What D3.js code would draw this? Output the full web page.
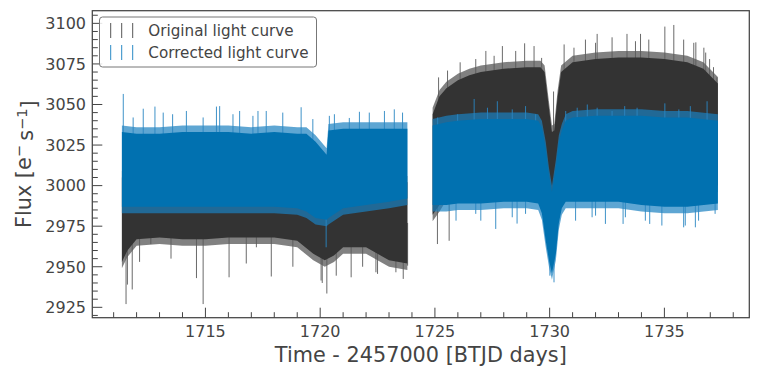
<!DOCTYPE html>
<html><head><meta charset="utf-8">
<script src="https://cdn.jsdelivr.net/npm/d3@7"></script>
<style>body{margin:0;background:#fff} text{font-family:"DejaVu Sans",sans-serif}</style>
</head><body><svg id="c" width="759" height="376"></svg>
<script>
// ---------- DATA ----------
const xTicks = [1715, 1720, 1725, 1730, 1735];
const yTicks = [2925, 2950, 2975, 3000, 3025, 3050, 3075, 3100];
const seriesNames = ["Original light curve", "Corrected light curve"];

// Original light curve: dense band edges per segment
const origT1  = [1711.36, 1711.6, 1712, 1713, 1714, 1715, 1716, 1717, 1718, 1719, 1719.7, 1720.2, 1720.6, 1721, 1722, 1722.5, 1723, 1723.8];
const origLo1 = [2953, 2960, 2967, 2968, 2967, 2967, 2968, 2968, 2968, 2966, 2958, 2954, 2957, 2962, 2962, 2958, 2954, 2952];
const origHi1 = [3005, 3008, 3010, 3010, 3010, 3010, 3010, 3010, 3010, 3010, 3008, 3005, 3006, 3008, 3008, 3006, 3004, 3002];
const origT2  = [1724.9, 1725.2, 1725.5, 1726, 1726.5, 1727, 1728, 1729, 1729.6, 1729.78, 1729.95, 1730.1, 1730.2, 1730.35, 1730.5, 1731, 1732, 1733, 1734, 1735, 1736, 1736.7, 1737.33];
const origHi2 = [3044, 3055, 3060, 3065, 3068, 3070, 3072, 3073, 3073, 3070, 3050, 3033, 3034, 3055, 3070, 3076, 3078, 3079, 3079, 3078, 3076, 3072, 3063];
const origLo2 = [2982, 2988, 2995, 3000, 3000, 3000, 3000, 3000, 3000, 2998, 2992, 2990, 2990, 2995, 3000, 3002, 3002, 3002, 3002, 3002, 3002, 3000, 3000];
// Original light curve: prominent individual excursions
const origSpikeT = [1711.54, 1711.60, 1711.81, 1712.13, 1712.62, 1713.50, 1714.61, 1714.90, 1716.03, 1716.78, 1717.22, 1717.87, 1718.81, 1720.04, 1720.09, 1720.29, 1720.70, 1721.35, 1721.85, 1722.43, 1722.50, 1723.30, 1723.62, 1723.81,
  1725.11, 1725.62,
  1725.16, 1725.55, 1726.10, 1726.78, 1727.22, 1727.58, 1727.94, 1728.52, 1728.91, 1729.32, 1729.65, 1730.17, 1730.63, 1731.06, 1731.56, 1732.0, 1732.07, 1732.72, 1733.37, 1733.74, 1733.96, 1734.32, 1735.02, 1735.41, 1735.84, 1736.28, 1736.37, 1736.72, 1736.8, 1736.97, 1737.14, 1737.29];
const origSpikeV = [2927, 2939, 2936, 2953, 2964, 2955, 2943, 2927, 2943.5, 2952, 2962, 2944, 2950, 2941.5, 2940, 2933.5, 2944.5, 2943.5, 2950, 2946.6, 2945.6, 2946.6, 2942.5, 2950.7,
  2964, 2966,
  3066.7, 3070.9, 3076, 3078, 3083, 3080, 3086, 3083, 3087.7, 3086, 3078.7, 3058, 3087, 3085, 3090, 3088, 3093.5, 3091.4, 3093.5, 3089, 3093.5, 3090, 3098, 3099, 3090, 3088, 3088.3, 3085, 3082, 3078, 3073, 3066.7];

// Corrected light curve: dense band edges per segment
const corrT1  = [1711.36, 1712, 1713, 1714, 1715, 1716, 1717, 1718, 1719, 1719.4, 1719.8, 1720.28, 1720.36, 1721, 1722, 1723, 1723.8];
const corrHi1 = [3033, 3032, 3032, 3033, 3033, 3033, 3032, 3033, 3032, 3032, 3027, 3019, 3034, 3035, 3035, 3035, 3035];
const corrLo1 = [2987, 2987, 2987, 2987, 2987, 2987, 2987, 2987, 2986, 2984, 2980, 2979, 2980, 2986, 2988, 2990, 2992];
const corrT2  = [1724.9, 1725.5, 1726, 1727, 1728, 1729, 1729.5, 1729.66, 1729.83, 1729.97, 1730.1, 1730.27, 1730.4, 1730.53, 1730.7, 1731, 1732, 1733, 1734, 1735, 1736, 1737.33];
const corrHi2 = [3037, 3039, 3040, 3041, 3041, 3041, 3040, 3036, 3023, 3007, 2996, 3012, 3027, 3034, 3040, 3042, 3043, 3043, 3043, 3042, 3042, 3040];
const corrLo2 = [2988, 2988, 2989, 2989, 2990, 2990, 2989, 2983, 2966, 2954, 2946, 2958, 2977, 2986, 2990, 2990, 2990, 2990, 2988, 2987, 2987, 2989];
// Corrected light curve: prominent individual excursions
const corrSpikeT = [1711.42, 1711.85, 1712.29, 1712.80, 1713.16, 1713.57, 1714.17, 1714.90, 1715.48, 1715.62, 1716.20, 1716.49, 1717.07, 1717.29, 1717.65, 1718.37, 1719.17, 1719.68, 1720.40, 1720.62, 1721.27, 1721.71, 1722.14, 1722.80, 1723.23, 1723.59,
  1720.26,
  1725.12, 1725.99, 1726.71, 1727.29, 1727.72, 1728.37, 1728.95, 1729.39, 1730.70, 1731.20, 1731.64, 1732.07, 1732.72, 1733.27, 1733.81, 1735.02, 1735.63, 1736.13, 1736.86,
  1725.92, 1726.78, 1727.0, 1727.65, 1728.37, 1728.58, 1728.95, 1730.01, 1730.19, 1731.13, 1731.85, 1732.0, 1732.43, 1733.2, 1733.30, 1734.17, 1734.36, 1734.89, 1735.84, 1735.91, 1736.35, 1736.49, 1737.21];
const corrSpikeV = [3056.5, 3042, 3047.4, 3048.7, 3045, 3044, 3046, 3042, 3048.7, 3049, 3044, 3046, 3043, 3046, 3046, 3045, 3048.3, 3041, 3043, 3044, 3041.7, 3045.5, 3045, 3046, 3047, 3045,
  2962,
  3042, 3044, 3053.4, 3048, 3052, 3047, 3049, 3044, 3046, 3048, 3050, 3048, 3046, 3049, 3048, 3050.7, 3047, 3049, 3052,
  2978.4, 2982.6, 2978.4, 2973.3, 2980.5, 2976.6, 2982.6, 2944.5, 2940.4, 2978.4, 2980.5, 2981.5, 2976.4, 2976.4, 2980.5, 2978.4, 2976.4, 2975.4, 2974.3, 2975.4, 2974.3, 2978.4, 2982.6];

// ---------- DRAWING ----------
const L = 92.3, R = 749.3, T = 10.7, B = 317.7;
const FR = 4; // width of the lighter fringe at band edges (flux units)
const svg = d3.select("#c");
const x = d3.scaleLinear().domain([1710.07, 1738.70]).range([L, R]);
const y = d3.scaleLinear().domain([2918.6, 3107.8]).range([B, T]);
const ink = "#444444";

svg.append("defs").append("clipPath").attr("id", "clip")
  .append("rect").attr("x", L).attr("y", T).attr("width", R - L).attr("height", B - T);
const plot = svg.append("g").attr("clip-path", "url(#clip)");

function seg(ts, lo, hi) { return ts.map((t, i) => ({t, lo: lo[i], hi: hi[i]})); }
function centerAt(segs, t) {
  for (const s of segs) {
    if (t >= s[0].t - 0.05 && t <= s[s.length - 1].t + 0.05) {
      const i = Math.max(1, Math.min(s.length - 1, d3.bisector(d => d.t).left(s, t)));
      const a = s[i - 1], b = s[i];
      const f = Math.max(0, Math.min(1, (t - a.t) / (b.t - a.t)));
      return ((a.lo + a.hi) / 2) * (1 - f) + ((b.lo + b.hi) / 2) * f;
    }
  }
  return null;
}

function drawSeries(segs, spikeT, spikeV, dense, fringe, fringeOp, spikeCol) {
  const g = plot.append("g");
  const fr = d3.area().x(d => x(d.t)).y0(d => y(d.lo - FR)).y1(d => y(d.hi + FR));
  const dn = d3.area().x(d => x(d.t)).y0(d => y(d.lo)).y1(d => y(d.hi));
  segs.forEach(s => {
    g.append("path").attr("d", fr(s)).attr("fill", fringe).attr("fill-opacity", fringeOp);
  });
  g.selectAll("line.sp").data(spikeT.map((t, i) => ({t, v: spikeV[i]}))).join("line")
    .attr("x1", d => x(d.t)).attr("x2", d => x(d.t))
    .attr("y1", d => y(d.v)).attr("y2", d => y(centerAt(segs, d.t)))
    .attr("stroke", spikeCol).attr("stroke-width", 1).attr("stroke-opacity", 0.9);
  segs.forEach(s => {
    g.append("path").attr("d", dn(s)).attr("fill", dense);
  });
}

drawSeries([seg(origT1, origLo1, origHi1), seg(origT2, origLo2, origHi2)], origSpikeT, origSpikeV,
  "#333333", "#333333", 0.62, "#5a5a5a");
drawSeries([seg(corrT1, corrLo1, corrHi1), seg(corrT2, corrLo2, corrHi2)], corrSpikeT, corrSpikeV,
  "#0171b0", "#1a80c0", 0.7, "#2a86c2");

// Frame
svg.append("rect").attr("x", L).attr("y", T).attr("width", R - L).attr("height", B - T)
  .attr("fill", "none").attr("stroke", ink).attr("stroke-width", 1.25);

// X ticks (inward)
const xMinor = d3.range(1711, 1739, 1);
svg.append("g").selectAll("line").data(xMinor).join("line")
  .attr("x1", d => x(d)).attr("x2", d => x(d))
  .attr("y1", B).attr("y2", d => B - (xTicks.includes(d) ? 10 : 5.5))
  .attr("stroke", ink).attr("stroke-width", 1);
svg.append("g").selectAll("text").data(xTicks).join("text")
  .attr("x", d => x(d)).attr("y", 336.7).attr("text-anchor", "middle")
  .attr("font-size", 16).attr("fill", ink).text(d => d);

// Y ticks (inward)
const yMinor = d3.range(2920, 3106, 5);
svg.append("g").selectAll("line").data(yMinor).join("line")
  .attr("y1", d => y(d)).attr("y2", d => y(d))
  .attr("x1", L).attr("x2", d => L + (yTicks.includes(d) ? 10 : 5.5))
  .attr("stroke", ink).attr("stroke-width", 1);
svg.append("g").selectAll("text").data(yTicks).join("text")
  .attr("x", 86).attr("y", d => y(d)).attr("dy", "0.36em").attr("text-anchor", "end")
  .attr("font-size", 16).attr("fill", ink).text(d => d);

// Axis labels
svg.append("text").attr("x", (L + R) / 2).attr("y", 362).attr("text-anchor", "middle")
  .attr("font-size", 20.8).attr("fill", ink).text("Time - 2457000 [BTJD days]");
const yl = svg.append("text").attr("transform", `translate(30.5,${(T + B) / 2}) rotate(-90)`)
  .attr("text-anchor", "middle").attr("font-size", 20.8).attr("fill", ink);
yl.append("tspan").text("Flux [e");
yl.append("tspan").attr("dy", "-0.45em").attr("font-size", "0.7em").text("\u2212");
yl.append("tspan").attr("dy", "0.45em").text("\u2009s");
yl.append("tspan").attr("dy", "-0.45em").attr("font-size", "0.7em").text("\u22121");
yl.append("tspan").attr("dy", "0.45em").text("]");

// Legend
const lg = svg.append("g");
lg.append("rect").attr("x", 99.5).attr("y", 17).attr("width", 217).attr("height", 50).attr("rx", 3)
  .attr("fill", "white").attr("fill-opacity", 0.85).attr("stroke", "#777").attr("stroke-width", 1);
const legCols = ["#555555", "#2a8ac6"];
seriesNames.forEach((name, i) => {
  const cy = 30.5 + i * 22;
  [110.7, 121.7, 132.7].forEach(hx => {
    lg.append("line").attr("x1", hx).attr("x2", hx).attr("y1", cy - 7.5).attr("y2", cy + 7.5)
      .attr("stroke", legCols[i]).attr("stroke-width", 1);
  });
  lg.append("text").attr("x", 148.3).attr("y", 36 + i * 22.3).attr("font-size", 15.2)
    .attr("fill", ink).text(name);
});
</script></body></html>
